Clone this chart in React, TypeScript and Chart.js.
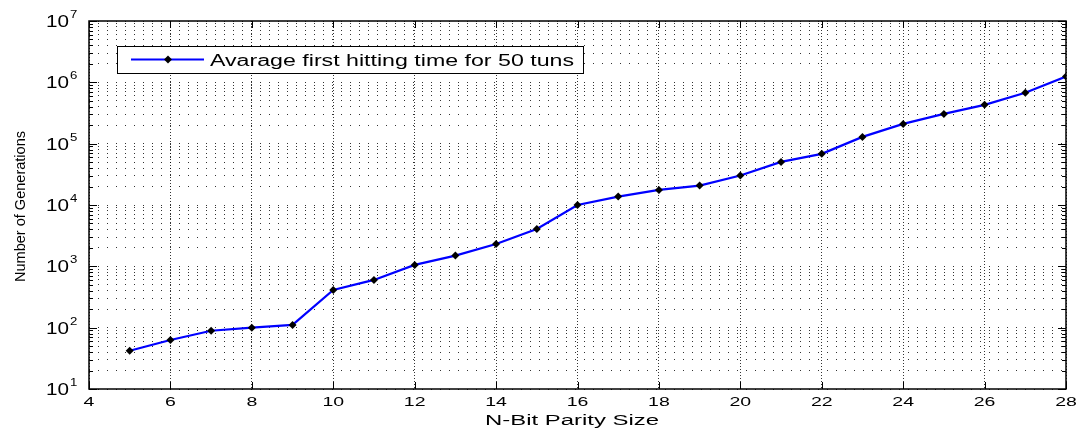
import React, { useEffect, useRef } from "react";
import { Chart, registerables } from "chart.js";

Chart.register(...registerables);

const paritySizes = [5, 6, 7, 8, 9, 10, 11, 12, 13, 14, 15, 16, 17, 18, 19, 20, 21, 22, 23, 24, 25, 26, 27, 28];
const generations = [
  42, 63, 89, 100, 111, 412, 600, 1055, 1497, 2317, 4074, 10000, 13700, 17600, 20700, 30200, 50400, 68200,
  129000, 210000, 306000, 430000, 675000, 1245000,
];
const xTickValues = [4, 6, 8, 10, 12, 14, 16, 18, 20, 22, 24, 26, 28];
const yDecadeExponents = [1, 2, 3, 4, 5, 6, 7];
const yMinorMultipliers = [1, 2, 3, 4, 5, 6, 7, 8, 9];
const legendLabel = "Avarage first hitting time for 50 tuns";
const xTitle = "N-Bit Parity Size";
const yTitle = "Number of Generations";

const FONT = "'Liberation Sans', Arial, sans-serif";

function drawScaled(ctx: CanvasRenderingContext2D, text: string, x: number, y: number, sx: number, align: CanvasTextAlign) {
  ctx.save();
  ctx.translate(x, y);
  ctx.scale(sx, 1);
  ctx.textAlign = align;
  ctx.fillText(text, 0, 0);
  ctx.restore();
}

function drawFitWidth(ctx: CanvasRenderingContext2D, text: string, left: number, y: number, width: number) {
  const w = ctx.measureText(text).width;
  drawScaled(ctx, text, left, y, width / w, "left");
}

const matlabPlugin = {
  id: "matlabDecor",
  afterDraw(chart: any) {
    const ctx: CanvasRenderingContext2D = chart.ctx;
    const { left, right, top, bottom } = chart.chartArea;
    const xs = chart.scales.x;
    const ys = chart.scales.y;
    ctx.save();
    ctx.strokeStyle = "#000";
    ctx.fillStyle = "#000";
    ctx.lineWidth = 1;
    ctx.textBaseline = "alphabetic";
    // tick marks (inward)
    ctx.beginPath();
    for (const e of yDecadeExponents) {
      for (const m of yMinorMultipliers) {
        const v = m * Math.pow(10, e);
        if (v > 1e7 + 1) continue;
        const py = Math.round(ys.getPixelForValue(v)) + 0.5;
        const len = m === 1 ? 8 : 4;
        ctx.moveTo(left, py);
        ctx.lineTo(left + len, py);
        ctx.moveTo(right, py);
        ctx.lineTo(right - len, py);
      }
    }
    for (const v of xTickValues) {
      const px = Math.round(xs.getPixelForValue(v)) + 0.5;
      ctx.moveTo(px, bottom);
      ctx.lineTo(px, bottom - 7);
      ctx.moveTo(px, top);
      ctx.lineTo(px, top + 7);
    }
    ctx.stroke();
    // box
    ctx.lineWidth = 1.5;
    ctx.strokeRect(left, top, right - left, bottom - top);

    // x tick labels
    ctx.font = `13px ${FONT}`;
    for (const v of xTickValues) {
      const px = xs.getPixelForValue(v);
      drawScaled(ctx, String(v), px, 406, 1.5, "center");
    }
    // y tick labels with superscripts
    for (const e of yDecadeExponents) {
      const py = ys.getPixelForValue(Math.pow(10, e));
      ctx.font = `16px ${FONT}`;
      drawFitWidth(ctx, "10", 46, py + 6, 23);
      ctx.font = `11px ${FONT}`;
      drawScaled(ctx, String(e), 70, py - 3, 1.2, "left");
    }
    // x title
    ctx.font = `14px ${FONT}`;
    drawFitWidth(ctx, xTitle, 485, 425, 174);
    // y title
    ctx.save();
    ctx.translate(25, 207);
    ctx.rotate(-Math.PI / 2);
    ctx.font = `15px ${FONT}`;
    drawFitWidth(ctx, yTitle, -75, 0, 151);
    ctx.restore();

    // legend
    ctx.fillStyle = "#fff";
    ctx.fillRect(117, 46, 466, 27);
    ctx.lineWidth = 1;
    ctx.strokeStyle = "#000";
    ctx.strokeRect(117.5, 46.5, 466, 27);
    ctx.strokeStyle = "#0000ff";
    ctx.lineWidth = 2;
    ctx.beginPath();
    ctx.moveTo(131, 59.5);
    ctx.lineTo(204, 59.5);
    ctx.stroke();
    ctx.fillStyle = "#000";
    ctx.beginPath();
    ctx.moveTo(168, 55.5);
    ctx.lineTo(172, 59.5);
    ctx.lineTo(168, 63.5);
    ctx.lineTo(164, 59.5);
    ctx.closePath();
    ctx.fill();
    ctx.font = `16px ${FONT}`;
    drawFitWidth(ctx, legendLabel, 210, 66, 364);
    ctx.restore();
  },
};

export default function App() {
  const ref = useRef<HTMLCanvasElement | null>(null);
  useEffect(() => {
    if (!ref.current) return;
    const chart = new Chart(ref.current, {
      type: "line",
      data: {
        datasets: [
          {
            label: legendLabel,
            data: paritySizes.map((x, i) => ({ x, y: generations[i] })),
            borderColor: "#0000ff",
            borderWidth: 2.2,
            pointStyle: "rectRot",
            pointRadius: 4,
            pointBackgroundColor: "#000",
            pointBorderColor: "#000",
            pointBorderWidth: 0,
            tension: 0,
            fill: false,
          },
        ],
      },
      plugins: [matlabPlugin],
      options: {
        animation: false,
        responsive: false,
        devicePixelRatio: 1,
        layout: { padding: { top: 21, right: 13, left: 0, bottom: 0 } },
        plugins: { legend: { display: false }, tooltip: { enabled: false } },
        scales: {
          x: {
            type: "linear",
            min: 4,
            max: 28,
            afterBuildTicks: (scale: any) => {
              scale.ticks = xTickValues.map((v) => ({ value: v }));
            },
            afterFit: (scale: any) => {
              scale.height = 43;
            },
            ticks: { display: false },
            grid: { color: "rgba(0,0,0,0.8)", lineWidth: 1, drawTicks: false },
            border: { display: false, dash: [1, 2] },
          },
          y: {
            type: "logarithmic",
            min: 10,
            max: 1e7,
            afterBuildTicks: (scale: any) => {
              const t: any[] = [];
              for (const e of yDecadeExponents) {
                for (const m of yMinorMultipliers) {
                  const v = m * Math.pow(10, e);
                  if (v <= 1e7) t.push({ value: v, major: m === 1 });
                }
              }
              scale.ticks = t;
            },
            afterFit: (scale: any) => {
              scale.width = 89;
            },
            ticks: { display: false },
            grid: { color: "rgba(0,0,0,0.8)", lineWidth: 1, drawTicks: false },
            border: { display: false, dash: [1, 8] },
          },
        },
      },
    });
    return () => chart.destroy();
  }, []);
  return (
    <div style={{ position: "fixed", left: 0, top: 0, width: 1079, height: 432, background: "#fff" }}>
      <canvas ref={ref} width={1079} height={432} style={{ width: 1079, height: 432 }} />
    </div>
  );
}
